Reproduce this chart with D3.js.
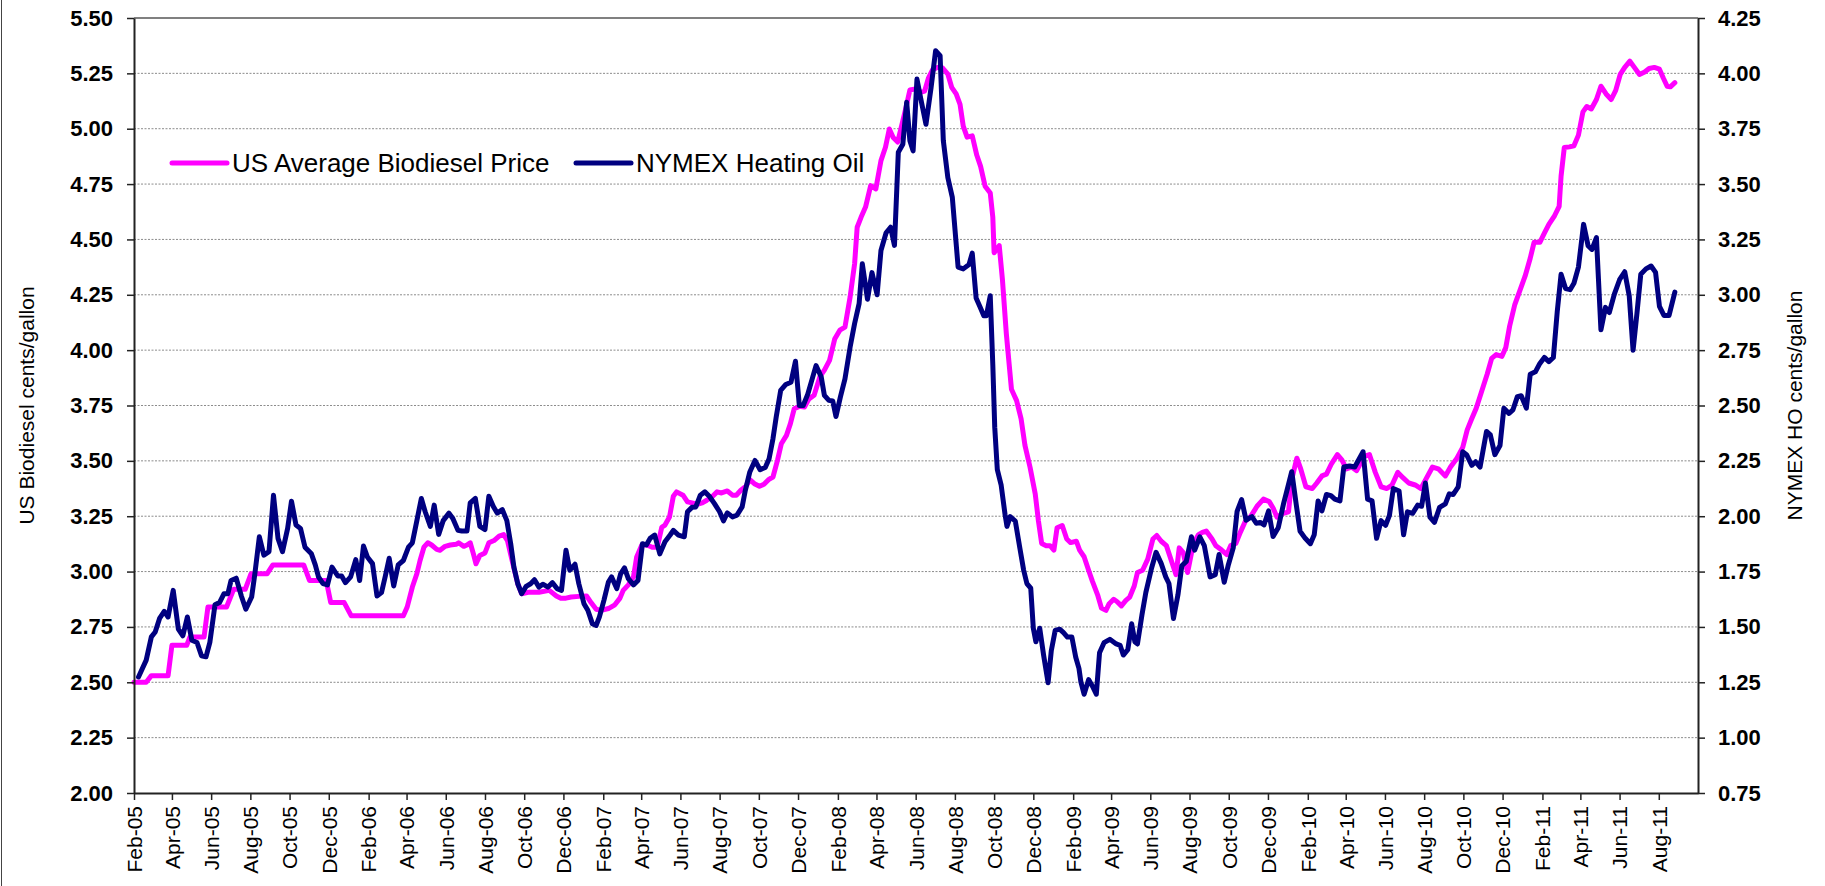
<!DOCTYPE html>
<html lang="en">
<head>
<meta charset="UTF-8">
<title>US Biodiesel vs NYMEX Heating Oil</title>
<script src="https://d3js.org/d3.v7.min.js"></script>
<style>
  html, body { margin: 0; padding: 0; background: #fff; }
  svg { display: block; font-family: "Liberation Sans", Arial, sans-serif; }
</style>
</head>
<body>
<svg id="chart" width="1825" height="886"></svg>
<script>
// US average biodiesel price ($/gal, left axis)
const biodieselPrice = [
  ["2005-02-01",2.50],["2005-02-20",2.50],["2005-02-28",2.53],["2005-03-26",2.53],["2005-04-01",2.667],["2005-04-24",2.667],
  ["2005-04-29",2.705],["2005-05-21",2.705],["2005-05-27",2.84],["2005-06-25",2.84],["2005-07-06",2.92],["2005-07-24",2.92],
  ["2005-08-02",2.99],["2005-08-27",2.99],["2005-09-05",3.03],["2005-10-23",3.03],["2005-11-01",2.96],["2005-11-27",2.96],
  ["2005-12-04",2.86],["2005-12-25",2.86],["2006-01-05",2.80],["2006-03-27",2.80],
  ["2006-04-02",2.84],["2006-04-10",2.93],["2006-04-17",2.99],["2006-04-22",3.05],["2006-04-28",3.11],["2006-05-04",3.13],
  ["2006-05-10",3.12],["2006-05-18",3.10],["2006-05-23",3.096],["2006-05-31",3.114],["2006-06-08",3.12],["2006-06-17",3.123],
  ["2006-06-21",3.13],["2006-06-29",3.114],["2006-07-04",3.12],["2006-07-09",3.13],["2006-07-14",3.08],["2006-07-18",3.035],
  ["2006-07-24",3.073],["2006-08-01",3.084],["2006-08-07",3.13],["2006-08-15",3.14],["2006-08-23",3.16],["2006-08-30",3.167],
  ["2006-09-05",3.14],["2006-09-13",3.04],["2006-09-21",2.945],["2006-09-27",2.90],["2006-10-09",2.907],["2006-10-24",2.907],
  ["2006-11-09",2.915],["2006-11-20",2.89],["2006-11-27",2.88],["2006-12-05",2.88],["2006-12-13",2.885],["2006-12-25",2.888],
  ["2007-01-06",2.89],["2007-01-13",2.86],["2007-01-21",2.83],["2007-01-29",2.825],["2007-02-09",2.833],["2007-02-19",2.85],
  ["2007-02-27",2.88],["2007-03-04",2.915],["2007-03-12",2.94],["2007-03-20",2.976],["2007-03-25",3.066],["2007-04-02",3.12],
  ["2007-04-10",3.12],["2007-04-18",3.11],["2007-04-26",3.11],["2007-05-03",3.20],["2007-05-08",3.21],["2007-05-15",3.246],
  ["2007-05-21",3.34],["2007-05-26",3.36],
  ["2007-06-05",3.345],["2007-06-12",3.315],["2007-06-19",3.31],["2007-06-27",3.304],["2007-07-05",3.31],["2007-07-12",3.322],
  ["2007-07-20",3.337],["2007-07-28",3.36],["2007-08-04",3.355],["2007-08-13",3.364],["2007-08-21",3.345],["2007-08-27",3.345],
  ["2007-09-03",3.367],["2007-09-11",3.385],["2007-09-17",3.415],["2007-09-24",3.397],["2007-10-02",3.385],["2007-10-09",3.394],
  ["2007-10-16",3.415],["2007-10-23",3.427],["2007-10-30",3.502],["2007-11-05",3.577],["2007-11-13",3.615],["2007-11-19",3.667],
  ["2007-11-25",3.735],
  ["2007-12-03",3.746],["2007-12-11",3.743],["2007-12-18",3.78],["2007-12-26",3.796],["2008-01-04",3.88],["2008-01-11",3.91],
  ["2008-01-19",3.954],["2008-01-27",4.05],["2008-02-04",4.09],["2008-02-12",4.104],["2008-02-20",4.24],["2008-02-27",4.39],
  ["2008-03-02",4.555],["2008-03-08",4.60],["2008-03-15",4.646],["2008-03-23",4.743],["2008-03-31",4.728],["2008-04-08",4.856],
  ["2008-04-15",4.916],["2008-04-21",4.999],["2008-04-27",4.96],["2008-05-04",4.94],["2008-05-12",5.036],["2008-05-17",5.097],
  ["2008-05-23",5.175],["2008-06-01",5.18],["2008-06-08",5.164],["2008-06-15",5.17],["2008-06-21",5.23],["2008-06-27",5.265],
  ["2008-07-05",5.277],["2008-07-13",5.274],["2008-07-21",5.247],["2008-07-27",5.187],["2008-08-03",5.157],["2008-08-09",5.11],
  ["2008-08-14",5.012],["2008-08-20",4.962],["2008-08-28",4.968],["2008-09-04",4.881],["2008-09-10",4.83],["2008-09-17",4.74],
  ["2008-09-25",4.71],["2008-09-29",4.60],["2008-10-01",4.44],["2008-10-09",4.472],["2008-10-14",4.317],["2008-10-20",4.075],
  ["2008-10-28",3.823],["2008-11-05",3.772],["2008-11-12",3.69],["2008-11-18",3.57],["2008-11-26",3.47],["2008-12-04",3.35],
  ["2008-12-09",3.228],["2008-12-14",3.127],["2008-12-21",3.117],["2008-12-27",3.117],["2009-01-02",3.097],["2009-01-07",3.198],
  ["2009-01-15",3.208],["2009-01-22",3.147],["2009-01-28",3.131],["2009-02-06",3.137],["2009-02-11",3.097],["2009-02-18",3.067],
  ["2009-02-25",3.006],["2009-03-03",2.956],["2009-03-11",2.895],["2009-03-17",2.835],["2009-03-24",2.825],["2009-03-29",2.855],
  ["2009-04-05",2.875],["2009-04-10",2.865],["2009-04-17",2.845],["2009-04-24",2.87],["2009-04-30",2.885],["2009-05-07",2.935],
  ["2009-05-12",2.996],["2009-05-20",3.006],["2009-05-28",3.056],["2009-06-05",3.147],["2009-06-11",3.163],["2009-06-18",3.137],
  ["2009-06-26",3.117],["2009-07-03",3.056],["2009-07-11",2.986],["2009-07-16",3.107],["2009-07-22",3.087],["2009-07-29",2.996],
  ["2009-08-07",3.127],["2009-08-15",3.167],["2009-08-21",3.177],["2009-08-27",3.183],["2009-09-05",3.147],["2009-09-11",3.117],
  ["2009-09-20",3.097],["2009-09-28",3.077],["2009-10-04",3.117],["2009-10-12",3.127],["2009-10-19",3.177],["2009-10-27",3.228],
  ["2009-11-04",3.248],["2009-11-14",3.295],["2009-11-24",3.327],["2009-12-03",3.316],["2009-12-09",3.287],["2009-12-15",3.246],
  ["2009-12-25",3.263],["2010-01-02",3.27],["2010-01-07",3.416],["2010-01-15",3.512],["2010-01-21",3.464],["2010-01-29",3.383],
  ["2010-02-08",3.375],["2010-02-15",3.40],["2010-02-23",3.432],["2010-03-02",3.44],["2010-03-10",3.488],["2010-03-19",3.528],
  ["2010-03-26",3.504],["2010-04-02",3.464],["2010-04-10",3.472],["2010-04-18",3.456],["2010-04-30",3.52],["2010-05-08",3.528],
  ["2010-05-17",3.448],["2010-05-26",3.383],["2010-06-04",3.375],["2010-06-12",3.391],["2010-06-21",3.448],["2010-06-29",3.424],
  ["2010-07-08",3.40],["2010-07-18",3.391],["2010-07-27",3.375],["2010-08-05",3.424],["2010-08-14",3.472],["2010-08-23",3.464],
  ["2010-09-03",3.432],["2010-09-11",3.472],["2010-09-21",3.512],["2010-09-30",3.561],["2010-10-07",3.64],["2010-10-14",3.69],
  ["2010-10-21",3.738],["2010-10-29",3.81],["2010-11-07",3.891],["2010-11-14",3.963],["2010-11-21",3.98],["2010-11-30",3.972],
  ["2010-12-06",4.012],["2010-12-12",4.109],["2010-12-20",4.206],["2010-12-28",4.27],["2011-01-05",4.334],["2011-01-13",4.415],
  ["2011-01-19",4.487],["2011-01-28",4.487],["2011-02-04",4.528],["2011-02-11",4.568],["2011-02-20",4.608],["2011-02-27",4.649],
  ["2011-03-02",4.786],["2011-03-07",4.915],["2011-03-15",4.918],["2011-03-22",4.923],["2011-03-29",4.971],["2011-04-05",5.076],
  ["2011-04-11",5.10],["2011-04-18",5.089],["2011-04-26",5.132],["2011-05-03",5.192],["2011-05-11",5.157],["2011-05-19",5.132],
  ["2011-05-26",5.173],["2011-06-02",5.245],["2011-06-09",5.277],["2011-06-17",5.305],["2011-06-24",5.277],["2011-07-02",5.245],
  ["2011-07-10",5.256],["2011-07-17",5.272],["2011-07-25",5.277],["2011-08-02",5.269],["2011-08-08",5.229],["2011-08-14",5.192],
  ["2011-08-19",5.189],["2011-08-26",5.208]
];

// NYMEX heating oil ($/gal, right axis)
const heatingOilPrice = [
  ["2005-02-08",1.274],["2005-02-20",1.35],["2005-02-28",1.455],["2005-03-06",1.477],["2005-03-13",1.54],["2005-03-20",1.57],
  ["2005-03-26",1.545],["2005-04-03",1.665],["2005-04-11",1.49],["2005-04-18",1.46],["2005-04-25",1.545],["2005-05-02",1.44],
  ["2005-05-10",1.43],["2005-05-17",1.37],["2005-05-24",1.365],["2005-05-30",1.43],["2005-06-07",1.60],["2005-06-14",1.61],
  ["2005-06-21",1.65],["2005-06-27",1.65],["2005-07-02",1.71],["2005-07-10",1.72],["2005-07-18",1.64],["2005-07-25",1.58],
  ["2005-08-03",1.635],["2005-08-08",1.74],["2005-08-15",1.907],["2005-08-22",1.824],["2005-08-30",1.84],["2005-09-06",2.095],
  ["2005-09-13",1.90],["2005-09-20",1.84],["2005-09-28",1.945],["2005-10-04",2.068],["2005-10-11",1.96],["2005-10-18",1.945],
  ["2005-10-25",1.86],["2005-11-04",1.83],["2005-11-10",1.78],["2005-11-15",1.726],["2005-11-22",1.696],["2005-11-29",1.69],
  ["2005-12-06",1.77],["2005-12-15",1.73],["2005-12-21",1.73],["2005-12-27",1.70],["2006-01-04",1.726],["2006-01-12",1.804],
  ["2006-01-18",1.71],["2006-01-24",1.865],["2006-01-30",1.816],["2006-02-07",1.786],["2006-02-14",1.64],["2006-02-21",1.655],
  ["2006-02-27",1.73],["2006-03-05",1.81],["2006-03-12",1.685],["2006-03-19",1.78],["2006-03-27",1.80],
  ["2006-04-04",1.86],["2006-04-10",1.88],["2006-04-17",1.98],["2006-04-24",2.08],["2006-04-30",2.02],["2006-05-08",1.954],
  ["2006-05-14",2.05],["2006-05-21",1.918],["2006-05-28",1.98],["2006-06-06",2.014],["2006-06-12",1.99],["2006-06-20",1.936],
  ["2006-06-26",1.933],["2006-07-04",1.933],["2006-07-09",2.06],["2006-07-17",2.08],["2006-07-24",1.954],["2006-08-01",1.94],
  ["2006-08-07",2.09],["2006-08-14",2.044],["2006-08-20",2.014],["2006-08-28",2.03],["2006-09-04",1.98],["2006-09-10",1.876],
  ["2006-09-15",1.77],["2006-09-21",1.695],["2006-09-27",1.65],["2006-10-04",1.683],["2006-10-11",1.695],["2006-10-17",1.713],
  ["2006-10-24",1.68],["2006-10-30",1.693],["2006-11-07",1.68],["2006-11-14",1.70],["2006-11-21",1.673],["2006-11-28",1.665],
  ["2006-12-05",1.846],["2006-12-11",1.756],["2006-12-19",1.783],["2006-12-25",1.695],["2007-01-02",1.605],["2007-01-08",1.575],
  ["2007-01-15",1.515],["2007-01-21",1.507],["2007-01-26",1.545],["2007-02-02",1.62],["2007-02-09",1.703],["2007-02-14",1.726],
  ["2007-02-22",1.673],["2007-02-28",1.74],["2007-03-06",1.767],["2007-03-12",1.718],["2007-03-20",1.69],["2007-03-27",1.71],
  ["2007-04-03",1.876],["2007-04-09",1.87],["2007-04-15",1.90],["2007-04-22",1.915],["2007-04-30",1.83],["2007-05-08",1.885],
  ["2007-05-16",1.915],["2007-05-21",1.936],["2007-05-29",1.915],
  ["2007-06-07",1.907],["2007-06-12",2.02],["2007-06-19",2.04],["2007-06-25",2.042],["2007-07-02",2.095],["2007-07-09",2.11],
  ["2007-07-16",2.09],["2007-07-24",2.057],["2007-08-01",2.02],["2007-08-07",1.979],["2007-08-13",2.015],["2007-08-21",1.997],
  ["2007-08-28",2.005],["2007-09-05",2.042],["2007-09-10",2.117],["2007-09-17",2.20],["2007-09-25",2.252],["2007-10-03",2.21],
  ["2007-10-11",2.22],["2007-10-17",2.26],["2007-10-23",2.35],["2007-10-28",2.447],["2007-11-04",2.568],["2007-11-12",2.595],
  ["2007-11-20",2.605],["2007-11-27",2.70],
  ["2007-12-03",2.50],["2007-12-09",2.50],["2007-12-16",2.55],["2007-12-22",2.61],["2007-12-29",2.68],["2008-01-06",2.63],
  ["2008-01-11",2.546],["2008-01-18",2.523],["2008-01-24",2.52],["2008-01-29",2.45],["2008-02-05",2.54],["2008-02-12",2.62],
  ["2008-02-20",2.764],["2008-02-27",2.87],["2008-03-05",2.96],["2008-03-10",3.14],["2008-03-18",2.98],["2008-03-25",3.10],
  ["2008-04-02",3.00],["2008-04-08",3.20],["2008-04-16",3.28],["2008-04-23",3.305],["2008-04-29",3.223],["2008-05-05",3.644],
  ["2008-05-12",3.68],["2008-05-18",3.87],["2008-05-23",3.696],["2008-05-28",3.65],["2008-06-03",3.974],["2008-06-10",3.87],
  ["2008-06-17",3.77],["2008-06-25",3.937],["2008-07-02",4.102],["2008-07-09",4.08],["2008-07-14",3.696],["2008-07-21",3.53],
  ["2008-07-28",3.44],["2008-08-06",3.125],["2008-08-14",3.117],["2008-08-23",3.137],["2008-08-28",3.188],["2008-09-03",2.986],
  ["2008-09-09",2.946],["2008-09-15",2.905],["2008-09-19",2.905],["2008-09-25",2.996],["2008-09-29",2.683],["2008-10-02",2.401],
  ["2008-10-06",2.21],["2008-10-12",2.14],["2008-10-18",2.008],["2008-10-21",1.954],["2008-10-26",1.998],["2008-11-03",1.978],
  ["2008-11-10",1.857],["2008-11-16",1.756],["2008-11-21",1.696],["2008-11-27",1.675],["2008-12-01",1.494],["2008-12-05",1.433],
  ["2008-12-11",1.494],["2008-12-17",1.373],["2008-12-24",1.248],["2008-12-29",1.393],["2009-01-04",1.484],["2009-01-11",1.49],
  ["2009-01-17",1.474],["2009-01-23",1.454],["2009-01-30",1.454],["2009-02-05",1.363],["2009-02-10",1.313],["2009-02-13",1.252],
  ["2009-02-18",1.196],["2009-02-25",1.262],["2009-03-03",1.232],["2009-03-09",1.196],["2009-03-14",1.383],["2009-03-21",1.429],
  ["2009-03-30",1.444],["2009-04-09",1.423],["2009-04-15",1.417],["2009-04-20",1.373],["2009-04-27",1.397],["2009-05-03",1.514],
  ["2009-05-08",1.433],["2009-05-12",1.423],["2009-05-19",1.554],["2009-05-25",1.655],["2009-06-03",1.766],["2009-06-10",1.837],
  ["2009-06-18",1.786],["2009-06-25",1.726],["2009-06-30",1.696],["2009-07-07",1.538],["2009-07-14",1.645],["2009-07-20",1.776],
  ["2009-07-27",1.796],["2009-08-04",1.907],["2009-08-09",1.847],["2009-08-17",1.907],["2009-08-24",1.867],["2009-09-02",1.726],
  ["2009-09-10",1.736],["2009-09-16",1.827],["2009-09-24",1.702],["2009-09-30",1.776],["2009-10-08",1.857],["2009-10-14",2.022],
  ["2009-10-21",2.075],["2009-10-28",1.982],["2009-11-06",1.998],["2009-11-13",1.968],["2009-11-19",1.972],["2009-11-25",1.961],
  ["2009-12-02",2.024],["2009-12-09",1.908],["2009-12-17",1.948],["2009-12-25",2.053],["2009-12-31",2.121],["2010-01-07",2.201],
  ["2010-01-14",2.053],["2010-01-20",1.932],["2010-01-28",1.90],["2010-02-05",1.876],["2010-02-11",1.916],["2010-02-17",2.069],
  ["2010-02-23",2.024],["2010-03-02",2.098],["2010-03-09",2.093],["2010-03-15",2.077],["2010-03-23",2.069],["2010-03-29",2.222],
  ["2010-04-07",2.227],["2010-04-15",2.222],["2010-04-21",2.254],["2010-04-28",2.291],["2010-05-05",2.077],["2010-05-12",2.069],
  ["2010-05-19",1.90],["2010-05-26",1.98],["2010-06-02",1.959],["2010-06-08",2.004],["2010-06-14",2.125],["2010-06-23",2.114],
  ["2010-06-30",1.916],["2010-07-06",2.02],["2010-07-14",2.013],["2010-07-22",2.05],["2010-07-28",2.045],["2010-08-03",2.15],
  ["2010-08-10",1.996],["2010-08-17",1.972],["2010-08-25",2.04],["2010-09-03",2.056],["2010-09-09",2.101],["2010-09-15",2.098],
  ["2010-09-23",2.133],["2010-09-30",2.291],["2010-10-06",2.278],["2010-10-14",2.23],["2010-10-20",2.246],["2010-10-27",2.222],
  ["2010-11-06",2.383],["2010-11-12",2.367],["2010-11-19",2.278],["2010-11-27",2.319],["2010-12-03",2.488],["2010-12-11",2.464],
  ["2010-12-17",2.48],["2010-12-24",2.54],["2010-12-30",2.544],["2011-01-07",2.488],["2011-01-13",2.641],["2011-01-21",2.652],
  ["2011-01-28",2.69],["2011-02-04",2.717],["2011-02-11",2.698],["2011-02-18",2.717],["2011-02-24",2.923],["2011-03-02",3.093],
  ["2011-03-09",3.028],["2011-03-16",3.023],["2011-03-22",3.052],["2011-03-29",3.125],["2011-04-06",3.318],["2011-04-13",3.222],
  ["2011-04-19",3.205],["2011-04-26",3.258],["2011-05-03",2.842],["2011-05-10",2.943],["2011-05-16",2.92],["2011-05-24",3.004],
  ["2011-06-01",3.068],["2011-06-09",3.104],["2011-06-16",2.996],["2011-06-22",2.749],["2011-06-28",2.915],["2011-07-04",3.093],
  ["2011-07-12",3.117],["2011-07-20",3.13],["2011-07-27",3.101],["2011-08-02",2.948],["2011-08-09",2.907],["2011-08-17",2.907],
  ["2011-08-26",3.012]
];

const monthLabels = [
  "Feb-05","Apr-05","Jun-05","Aug-05","Oct-05","Dec-05","Feb-06","Apr-06","Jun-06","Aug-06","Oct-06","Dec-06",
  "Feb-07","Apr-07","Jun-07","Aug-07","Oct-07","Dec-07","Feb-08","Apr-08","Jun-08","Aug-08","Oct-08","Dec-08",
  "Feb-09","Apr-09","Jun-09","Aug-09","Oct-09","Dec-09","Feb-10","Apr-10","Jun-10","Aug-10","Oct-10","Dec-10",
  "Feb-11","Apr-11","Jun-11","Aug-11"
];
const leftTicks = [2.00,2.25,2.50,2.75,3.00,3.25,3.50,3.75,4.00,4.25,4.50,4.75,5.00,5.25,5.50];
const rightTicks = [0.75,1.00,1.25,1.50,1.75,2.00,2.25,2.50,2.75,3.00,3.25,3.50,3.75,4.00,4.25];
const seriesNames = ["US Average Biodiesel Price", "NYMEX Heating Oil"];
const seriesColors = ["#ff00ff", "#000080"];

const plot = {left: 134, right: 1698, top: 18, bottom: 793};
const parseDay = d3.timeParse("%Y-%m-%d");
const parseMonth = d3.timeParse("%b-%y");

const svg = d3.select("#chart");

// left border of the chart frame
svg.append("line")
  .attr("x1", 1.5).attr("x2", 1.5).attr("y1", 0).attr("y2", 886)
  .attr("stroke", "#444").attr("stroke-width", 1);

const x = d3.scaleTime()
  .domain([new Date(2005, 1, 1), new Date(2011, 9, 1)])
  .range([plot.left, plot.right]);
const yLeft = d3.scaleLinear().domain([2.0, 5.5]).range([plot.bottom, plot.top]);
const yRight = d3.scaleLinear().domain([0.75, 4.25]).range([plot.bottom, plot.top]);

// dotted gridlines
svg.append("g")
  .selectAll("line")
  .data(leftTicks.filter(v => v > 2 && v < 5.5))
  .join("line")
  .attr("x1", plot.left).attr("x2", plot.right)
  .attr("y1", d => yLeft(d)).attr("y2", d => yLeft(d))
  .attr("stroke", "#8c8c8c").attr("stroke-width", 1)
  .attr("stroke-dasharray", "2,1.5");

// top border of plot area
svg.append("line")
  .attr("x1", plot.left).attr("x2", plot.right)
  .attr("y1", yLeft(5.5)).attr("y2", yLeft(5.5))
  .attr("stroke", "#808080").attr("stroke-width", 2);

// series lines
const lineLeft = d3.line().x(d => x(parseDay(d[0]))).y(d => yLeft(d[1]));
const lineRight = d3.line().x(d => x(parseDay(d[0]))).y(d => yRight(d[1]));

svg.append("path")
  .datum(biodieselPrice)
  .attr("fill", "none")
  .attr("stroke", seriesColors[0])
  .attr("stroke-width", 5)
  .attr("stroke-linejoin", "round")
  .attr("stroke-linecap", "round")
  .attr("d", lineLeft);

svg.append("path")
  .datum(heatingOilPrice)
  .attr("fill", "none")
  .attr("stroke", seriesColors[1])
  .attr("stroke-width", 5)
  .attr("stroke-linejoin", "round")
  .attr("stroke-linecap", "round")
  .attr("d", lineRight);

// axes
const axisLeft = svg.append("g")
  .attr("transform", `translate(${plot.left},0)`)
  .call(d3.axisLeft(yLeft).tickValues(leftTicks).tickFormat(d3.format(".2f"))
    .tickSize(7).tickSizeOuter(0).tickPadding(14));
const axisRight = svg.append("g")
  .attr("transform", `translate(${plot.right},0)`)
  .call(d3.axisRight(yRight).tickValues(rightTicks).tickFormat(d3.format(".2f"))
    .tickSize(7).tickSizeOuter(0).tickPadding(13));

[axisLeft, axisRight].forEach(g => {
  g.select(".domain").attr("stroke", "#222").attr("stroke-width", 2);
  g.selectAll(".tick line").attr("stroke", "#222").attr("stroke-width", 1.5);
  g.selectAll(".tick text")
    .attr("fill", "#000")
    .style("font-family", '"Liberation Sans", Arial, sans-serif')
    .style("font-size", "22px")
    .style("font-weight", "bold");
});

const axisBottom = svg.append("g")
  .attr("transform", `translate(0,${plot.bottom})`)
  .call(d3.axisBottom(x).tickValues(monthLabels.map(parseMonth))
    .tickFormat(d3.timeFormat("%b-%y")).tickSize(7).tickSizeOuter(0));
axisBottom.select(".domain").attr("stroke", "#222").attr("stroke-width", 2);
axisBottom.selectAll(".tick line").attr("stroke", "#222").attr("stroke-width", 1.5);
axisBottom.selectAll(".tick text")
  .attr("transform", "rotate(-90)")
  .attr("text-anchor", "end")
  .attr("x", -13)
  .attr("y", 0)
  .attr("dy", "0.35em")
  .attr("fill", "#000")
  .style("font-family", '"Liberation Sans", Arial, sans-serif')
  .style("font-size", "21px");

// axis titles
const midY = (plot.top + plot.bottom) / 2;
svg.append("text")
  .attr("transform", `translate(34,${midY}) rotate(-90)`)
  .attr("text-anchor", "middle")
  .style("font-size", "21px")
  .text("US Biodiesel cents/gallon");
svg.append("text")
  .attr("transform", `translate(1802,${midY}) rotate(-90)`)
  .attr("text-anchor", "middle")
  .style("font-size", "21px")
  .text("NYMEX HO cents/gallon");

// legend
const legendItems = [
  {name: seriesNames[0], color: seriesColors[0], x: 172},
  {name: seriesNames[1], color: seriesColors[1], x: 576}
];
const legend = svg.append("g").attr("transform", "translate(0,163)");
legendItems.forEach(item => {
  legend.append("line")
    .attr("x1", item.x).attr("x2", item.x + 55)
    .attr("y1", 0).attr("y2", 0)
    .attr("stroke", item.color).attr("stroke-width", 5)
    .attr("stroke-linecap", "round");
  legend.append("text")
    .attr("x", item.x + 60).attr("y", 9)
    .style("font-size", "26px")
    .text(item.name);
});
</script>
</body>
</html>
